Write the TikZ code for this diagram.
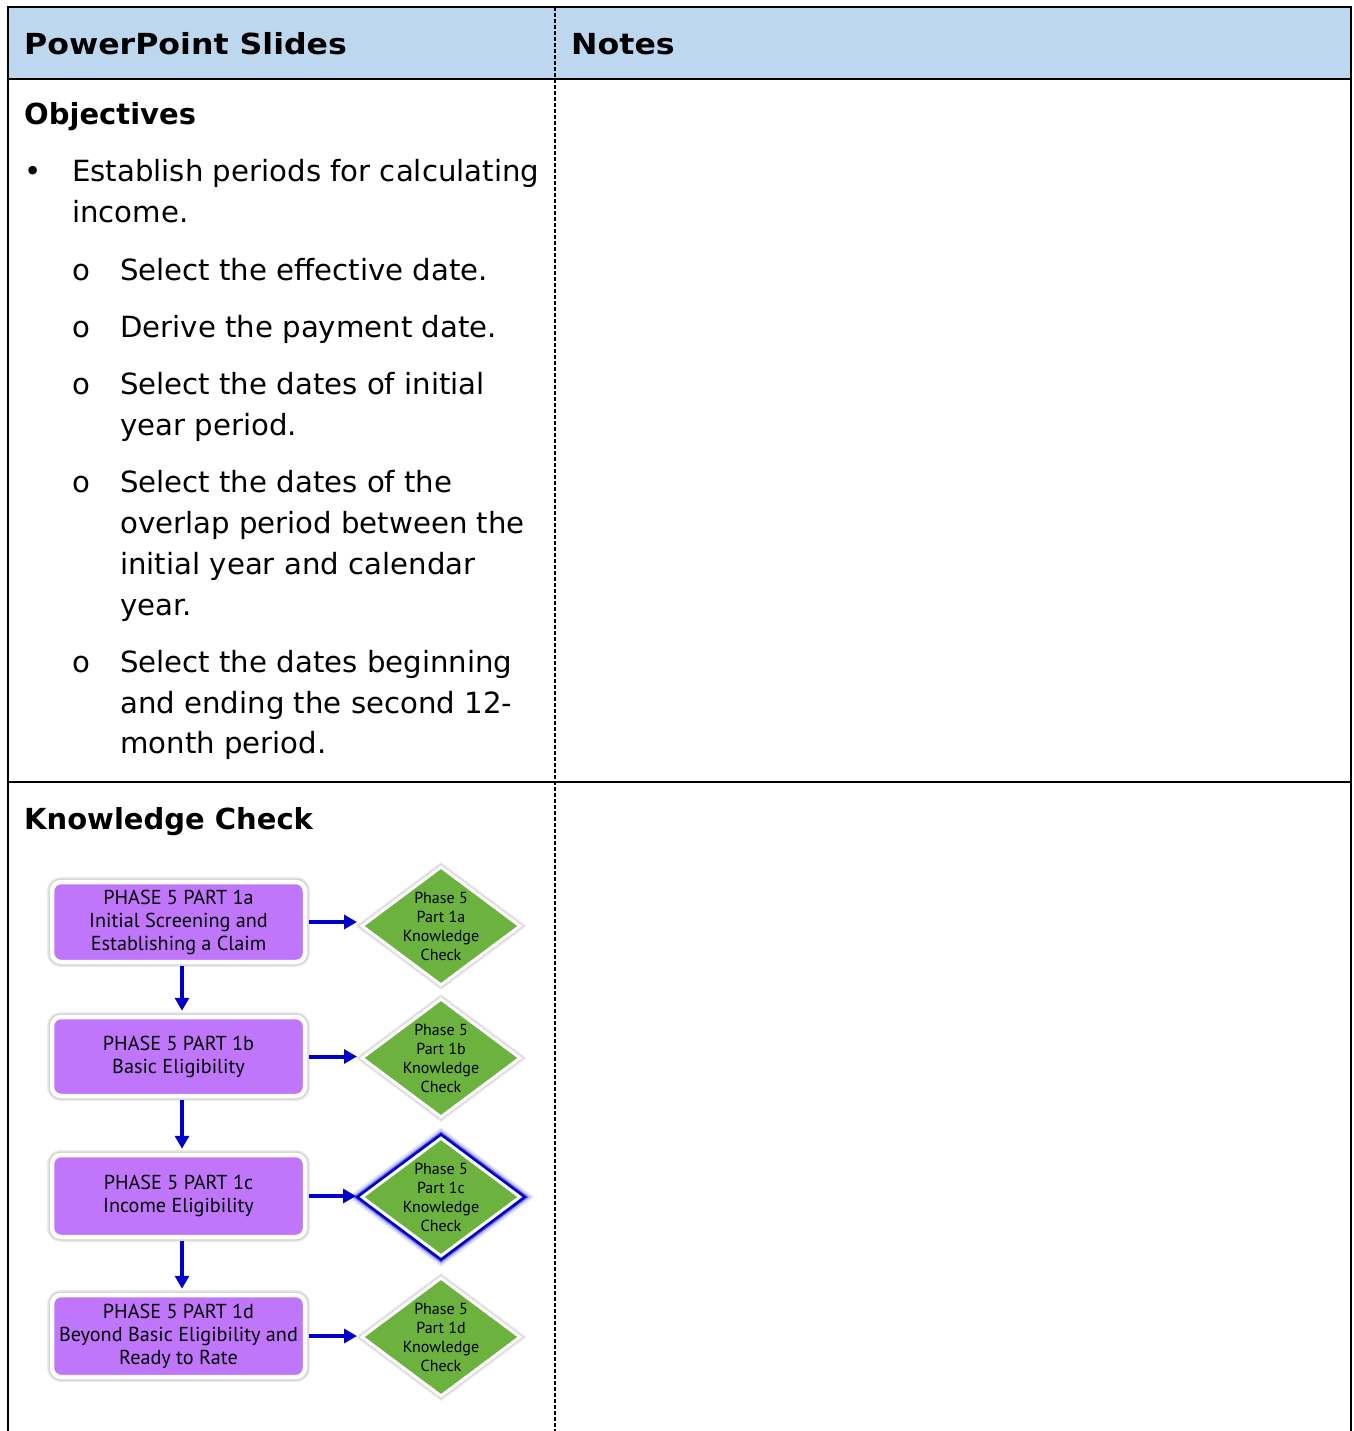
\documentclass[tikz,border=0pt]{standalone}
\usepackage{fontspec}
\setmainfont{DejaVu Sans}
\newfontfamily\flowfont{PT Sans}
\usetikzlibrary{shapes.geometric,arrows.meta}
\definecolor{hdr}{RGB}{189,215,238}
\definecolor{violetbox}{RGB}{191,118,250}
\definecolor{greendiam}{RGB}{108,178,62}
\definecolor{arrblue}{RGB}{0,0,200}
\begin{document}
\begin{tikzpicture}[x=1pt,y=-1pt,
  bodytext/.style={anchor=base west, inner sep=0pt, font=\fontsize{29.2}{34}\selectfont},
  headtext/.style={anchor=base west, inner sep=0pt, font=\fontsize{29}{34}\selectfont\bfseries},
  toptext/.style={anchor=base west, inner sep=0pt, font=\fontsize{29}{34}\selectfont\bfseries, xscale=1.09},
  pbox/.style={rectangle, rounded corners=9pt, fill=violetbox, draw=white, line width=4.5pt,
    minimum width=253pt, minimum height=80pt, inner sep=0pt, align=center,
    font=\flowfont\fontsize{20.2}{23}\selectfont,
    preaction={draw=black!8, line width=10pt},
    preaction={draw=black!18, line width=7pt}},
  kdiam/.style={diamond, fill=greendiam, draw=white, line width=3pt,
    minimum width=159pt, minimum height=119pt, inner sep=0pt,
    preaction={draw=black!8, line width=8pt},
    preaction={draw=black!15, line width=5.5pt}},
  glowdiam/.style={diamond, fill=greendiam, draw=white, line width=3pt,
    minimum width=159pt, minimum height=119pt, inner sep=0pt,
    preaction={draw=arrblue!12, line width=17pt},
    preaction={draw=arrblue!30, line width=13pt},
    preaction={draw=arrblue!70, line width=10pt},
    preaction={draw=arrblue, line width=8pt}},
  ktext/.style={align=center, inner sep=0pt, font=\flowfont\fontsize{16}{19}\selectfont},
  arr/.style={draw=arrblue, line width=4pt, -{Triangle[length=13pt,width=14pt]}},
  tline/.style={line width=1.8pt, draw=black},
  dline/.style={line width=1.5pt, draw=black, dash pattern=on 4pt off 2pt}
]
\useasboundingbox (0,0) rectangle (1353,1431);
\fill[white] (0,0) rectangle (1353,1431);
% header fill
\fill[hdr] (8,7) rectangle (1351,79);
% table lines
\draw[tline] (8,1431) -- (8,7) -- (1351,7) -- (1351,1431);
\draw[tline] (8,79) -- (1351,79);
\draw[tline] (8,782) -- (1351,782);
\draw[dline] (555,7) -- (555,1431);

% header texts
\node[toptext] (h1) at (24,55) {PowerPoint Slides};
\node[toptext] (h2) at (571,55) {Notes};

% objectives
\node[headtext] (obj) at (24,125) {Objectives};
\node[bodytext] (bul) at (24,182) {\textbullet};
\node[bodytext] (l1) at (72,182) {Establish periods for calculating};
\node[bodytext] (l2) at (72,223) {income.};
\node[bodytext] (o1) at (72,280) {o};
\node[bodytext] (l3) at (120,280) {Select the effective date.};
\node[bodytext] (o2) at (72,337) {o};
\node[bodytext] (l4) at (120,337) {Derive the payment date.};
\node[bodytext] (o3) at (72,394) {o};
\node[bodytext] (l5) at (120,394) {Select the dates of initial};
\node[bodytext] (l6) at (120,435) {year period.};
\node[bodytext] (o4) at (72,492) {o};
\node[bodytext] (l7) at (120,492) {Select the dates of the};
\node[bodytext] (l8) at (120,533) {overlap period between the};
\node[bodytext] (l9) at (120,574) {initial year and calendar};
\node[bodytext] (l10) at (120,615) {year.};
\node[bodytext] (o5) at (72,672) {o};
\node[bodytext] (l11) at (120,672) {Select the dates beginning};
\node[bodytext] (l12) at (120,713) {and ending the second 12-};
\node[bodytext] (l13) at (120,753) {month period.};

% knowledge check
\node[headtext] (kc) at (24,829) {Knowledge Check};

% flow boxes
\node[pbox] (b1) at (178.5,922) {PHASE 5 PART 1a\\Initial Screening and\\Establishing a Claim};
\node[pbox, minimum height=79pt] (b2) at (178.5,1056.5) {PHASE 5 PART 1b\\Basic Eligibility};
\node[pbox, minimum height=82pt] (b3) at (178.5,1196) {PHASE 5 PART 1c\\Income Eligibility};
\node[pbox, minimum height=82pt] (b4) at (178.5,1336) {PHASE 5 PART 1d\\Beyond Basic Eligibility and\\Ready to Rate};

% diamonds
\node[kdiam] (d1) at (441,926) {};
\node[ktext] (t1) at (d1) {Phase 5\\Part 1a\\Knowledge\\Check};
\node[kdiam] (d2) at (441,1058) {};
\node[ktext] (t2) at (d2) {Phase 5\\Part 1b\\Knowledge\\Check};
\node[glowdiam] (d3) at (441,1197) {};
\node[ktext] (t3) at (d3) {Phase 5\\Part 1c\\Knowledge\\Check};
\node[kdiam] (d4) at (441,1337) {};
\node[ktext] (t4) at (d4) {Phase 5\\Part 1d\\Knowledge\\Check};

% arrows
\draw[arr, shorten <=2pt, shorten >=3pt] (b1.east) -- (b1.east -| d1.west);
\draw[arr, shorten <=2pt, shorten >=3pt] (b2.east) -- (b2.east -| d2.west);
\draw[arr, shorten <=2pt, shorten >=4pt] (b3.east) -- (b3.east -| d3.west);
\draw[arr, shorten <=2pt, shorten >=3pt] (b4.east) -- (b4.east -| d4.west);
\draw[arr, shorten <=2pt, shorten >=4pt] ([xshift=3.5pt]b1.south) -- ([xshift=3.5pt]b2.north);
\draw[arr, shorten <=2pt, shorten >=4pt] ([xshift=3.5pt]b2.south) -- ([xshift=3.5pt]b3.north);
\draw[arr, shorten <=2pt, shorten >=4pt] ([xshift=3.5pt]b3.south) -- ([xshift=3.5pt]b4.north);
\end{tikzpicture}
\end{document}
